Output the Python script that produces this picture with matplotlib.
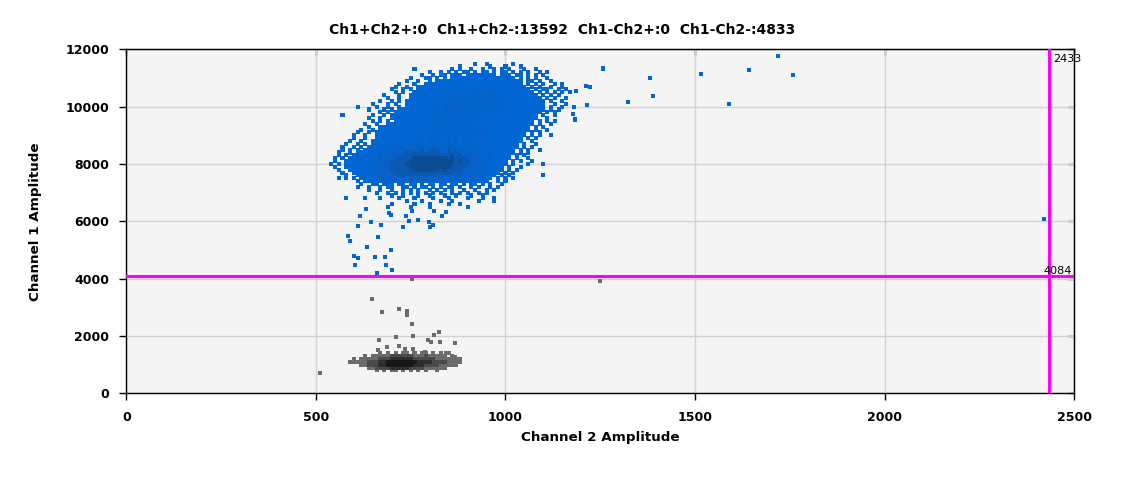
import numpy as np
import matplotlib.pyplot as plt

# thresholds and droplet counts shown on the chart
ch1_threshold = 4084
ch2_threshold = 2433
quadrant_names = ["Ch1+Ch2+", "Ch1+Ch2-", "Ch1-Ch2+", "Ch1-Ch2-"]
quadrant_counts = [0, 13592, 0, 4833]

x_ticks = [0, 500, 1000, 1500, 2000, 2500]
y_ticks = [0, 2000, 4000, 6000, 8000, 10000, 12000]

# droplet density, one character per 10 x 100 amplitude cell
# '.' = empty, 1..4 = more and more overlapping droplets (darker)
pos_x0, pos_y0 = 540, 11500
pos_rows = [
    ".......... .......... .......... ........1. .1......1.",
    ".......... .......... .......... ....1..... ..1...1... 1.........",
    ".......... .......... ..1....... ..1.1..1.. 1..1.1.1.. .1..1.....",
    ".......... .......... ......1..1 .1.1.11.1. 11.1.11.1. 1.1..1.1..",
    ".......... .......... ....1..1.1 1.111.1111 1111.111.1 1.1.1.1...",
    ".......... .......... .1...11.1. 1.11111111 111111111. 1.1.1..1..",
    ".......... .......... 1..1..1.11 1111111111 1111111111 1.11.1..1.",
    ".......... ........1. ..1..11111 1111111111 1111111111 1.1.1.1..1 .1...",
    ".......... .......1.. 1..1111111 1111111111 1111111111 11.1.1..1. .1...",
    ".......... ......1..1 .1.1111121 1211212112 1121211111 111.1.11.. 1.1..",
    ".......... .......1.1 ..11111112 1211121121 2112111211 1111.1.1.1 .1.1.",
    ".......... ....1...1. .111111211 2112121112 1212112111 11111.1.1. 1....",
    ".......... .....1..1. .111111121 1211212121 1211211211 111111.1.1 ..1..",
    ".......... ...1..1.1. 1111111112 1122121121 2121121111 1111111.1. .1...",
    ".......... .1...1.1.. 1111111211 2121122121 1212121111 1111111..1 ..1..",
    ".......1.. ..1..1..1. 1111111121 1212211212 2112121111 1111111.1. .1..1",
    ".......... 1...1.1.11 1111111211 2122121221 1211211111 1111111.1. 1....",
    ".......... ...1.1.111 1111111121 1212112121 2121121111 111111.1.1",
    "...1...... .1..1.1111 1111111212 1121212112 1211211111 11111.1..1",
    ".......... 1..1..1111 1111111121 2121121212 1121111111 11111..1..",
    ".......... .1.1.1.111 1111111212 1212211211 2112111111 1111.1.1.1",
    ".........1 ..1..11111 1111111121 2121212121 1211211111 1111.1..1.",
    ".......... 1..1111111 1111111211 2112121212 1121111111 111.1.1...",
    "........1. .1.1111111 1111111121 2121121121 2111211111 111.1..1..",
    ".......1.. 1.11111111 1111121112 1211212112 1121111111 11.1.1....",
    "......1..1 ..11111111 1111211211 2112121211 2111111111 11.1.1..1.",
    "......1..1 ..11111111 1112111211 1211121121 1111111111 1.1.1.....",
    ".....1..1. .111111211 1211212121 1212112111 2111111111 1..1......",
    "....1..1.1 .111121121 2121212212 1212121211 2111111111 .1..1.....",
    "...1..1.1. 1112112122 1212221212 2121212121 1211111111 .1.1......",
    "...1.1.1.1 1121211212 2222322322 2322121212 112111111. 1.1..1....",
    "..1..1.111 1212121222 3232323332 2323221212 112111111. 1.1.......",
    "..1.1.1111 1212122223 3333333333 3332322212 11211111.1 .1........",
    ".1.1.11111 1122122233 3344444444 4343332221 21211111.1 ..1.......",
    ".1..111111 1221222333 3444444444 4443433222 2121111.1. 1..1......",
    "1.1.111111 1212223333 4444444444 4443333222 1211111.1. ..1...1...",
    ".1..111111 2122223333 3444444444 4433332221 211111.1.. 1.........",
    "..1..11111 1212223333 3344444443 4333322212 121111.1.1",
    "...1..1111 1121222333 3333333333 3332322121 12111.1.1.",
    "....1..111 1212122223 2323232322 2222121212 1111.1.1.. ......1...",
    "..1.1.1.11 1121212222 2222222222 1212121211 111.1.1.1.",
    ".......1.1 1112121212 1212121212 1121211111 11..1.1...",
    "........1. .11.111.11 .11.1.11.1 1.11.1.11. 1.1..1....",
    ".......1.. 1..1.11..1 1.1.11.1.1 .11.1..1.1 ..1.1.....",
    ".......... 1..1..1..1 .1.1..1.1. 1.1..1..1. .1.1......",
    ".......... ..1..1.1.1 .1.1.1.1.1 ..1.1.1..1 .1........",
    ".......... ......1..1 ...1..1... 1..1...1.. 1.........",
    "....1....1 ...1....1. ..1....1.. .1....1... 1..1......",
    ".......... .......... 1...1....1 ..1......1 ...1......",
    ".......... ......1... ..1...1... .1..1.....",
    ".......... .....1.... .1....1... ......1...",
]

neg_x0, neg_y0 = 580, 1400
neg_rows = [
    ".........1 .1.1.11.1. 11.1.1.1..",
    ".....1.111 1122222211 1211111.1.",
    "..1.111112 2233333322 2222111111 1",
    ".111112223 3444444443 3332222111 1",
    "....112223 3444444433 3222211111",
    "......1122 2233333222 2111111",
    "........1. 1.11.1.1.1 .1..1.....",
]

# single droplets away from the clusters
pos_extra_x = [1258, 1324, 1381, 1389, 1516, 1590, 1643, 1719, 1758, 1216, 1212, 1224,
               1187, 1184, 1179, 2421, 617, 646, 612, 672, 693, 699, 738, 730, 746, 770,
               754, 799, 802, 809, 833, 844, 812, 633, 585, 590, 664, 635, 699, 601, 612,
               656, 683, 604, 685, 701, 662]
pos_extra_y = [11330, 10150, 10990, 10360, 11130, 10080, 11270, 11760, 11090, 10040, 10725,
               10690, 10530, 9550, 9745, 6065, 6170, 5960, 5820, 5862, 6274, 6204, 6170,
               5785, 5994, 6030, 6343, 5960, 5785, 5855, 6170, 6308, 6343, 6413, 5472, 5298,
               5437, 5089, 4984, 4775, 4705, 4740, 4740, 4461, 4461, 4287, 4183]
neg_extra_x = [754, 649, 675, 720, 741, 741, 754, 825, 812, 712, 757, 667, 796, 804, 828,
               868, 720, 688, 664, 736, 757, 788, 844, 868, 511, 1250]
neg_extra_y = [3973, 3276, 2823, 2937, 2858, 2719, 2405, 2126, 2022, 1952, 1987, 1847, 1847,
               1777, 1777, 1743, 1666, 1603, 1499, 1534, 1534, 1440, 1394, 1255, 697, 3914]

blue_shades = {1: '#0066d4', 2: '#0662c8', 3: '#0a58b0', 4: '#0b4d94'}
gray_shades = {1: '#6b6b6b', 2: '#4a4a4a', 3: '#2e2e2e', 4: '#181818'}


def decode(rows, x0, y0, dx=10, dy=100):
    xs, ys, lv = [], [], []
    for r, row in enumerate(rows):
        for c, ch in enumerate(row.replace(' ', '')):
            if ch != '.':
                xs.append(x0 + c * dx)
                ys.append(y0 - r * dy)
                lv.append(int(ch))
    return np.array(xs), np.array(ys), np.array(lv)


def draw_droplets(ax, rows, x0, y0, extra_x, extra_y, shades):
    xs, ys, lv = decode(rows, x0, y0)
    xs = np.concatenate([np.array(extra_x), xs])
    ys = np.concatenate([np.array(extra_y), ys])
    lv = np.concatenate([np.ones(len(extra_x), dtype=int), lv])
    order = np.argsort(lv, kind='stable')
    colors = [shades[v] for v in lv[order]]
    ax.scatter(xs[order], ys[order], s=8.5, marker='s', c=colors, linewidths=0, zorder=3)


fig = plt.figure(figsize=(11.25, 4.78), dpi=100)
ax = fig.add_axes([0.1124, 0.1772, 0.8423, 0.7197])
ax.set_facecolor('#f4f4f4')

draw_droplets(ax, neg_rows, neg_x0, neg_y0, neg_extra_x, neg_extra_y, gray_shades)
draw_droplets(ax, pos_rows, pos_x0, pos_y0, pos_extra_x, pos_extra_y, blue_shades)

ax.axhline(ch1_threshold, color='#ff00ff', lw=2.2, zorder=4)
ax.axvline(ch2_threshold, color='#ff00ff', lw=2.2, zorder=4)
ax.text(2444, 11548, str(ch2_threshold), fontsize=8, va='baseline', ha='left', clip_on=False, zorder=5)
ax.text(2495, 4176, str(ch1_threshold), fontsize=8, va='baseline', ha='right', zorder=5)

ax.set_xlim(0, 2500)
ax.set_ylim(0, 12000)
ax.set_xticks(x_ticks)
ax.set_yticks(y_ticks)
ax.grid(True, color='#d2d2d2', linewidth=1, zorder=0)
ax.set_axisbelow(True)
ax.tick_params(direction='out', length=5, width=1, labelsize=9, pad=7.5, colors='black')
for lab in ax.get_xticklabels() + ax.get_yticklabels():
    lab.set_fontweight('bold')
for sp in ax.spines.values():
    sp.set_color('black')
    sp.set_linewidth(1)

top = ax.secondary_xaxis('top')
top.set_xticks(x_ticks)
top.tick_params(direction='in', length=4, width=1, labeltop=False)
right = ax.secondary_yaxis('right')
right.set_yticks(y_ticks)
right.tick_params(direction='in', length=4, width=1, labelright=False)

ax.set_xlabel('Channel 2 Amplitude', fontsize=9.7, fontweight='bold')
ax.set_ylabel('Channel 1 Amplitude', fontsize=9.7, fontweight='bold')
ax.xaxis.set_label_coords(0.5, -0.11)
ax.yaxis.set_label_coords(-0.089, 0.5)

title = '  '.join(f'{n}:{c}' for n, c in zip(quadrant_names, quadrant_counts))
fig.text(0.5, 1 - 30.5 / 478, title, ha='center', va='center', fontsize=10, fontweight='bold')

fig.savefig('out.png', dpi=100)
